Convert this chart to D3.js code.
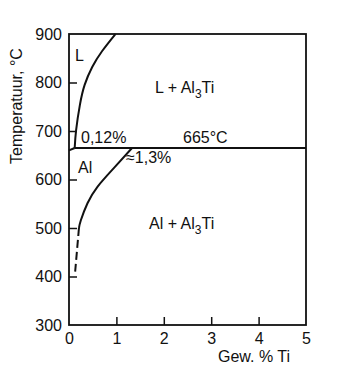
<!DOCTYPE html>
<html><head><meta charset="utf-8">
<script src="https://cdn.jsdelivr.net/npm/d3@7"></script>
<style>
html,body{margin:0;padding:0;background:#fff;}
text{font-family:"Liberation Sans",Arial,sans-serif;fill:#111;}
</style></head>
<body>
<svg id="c" width="350" height="371"></svg>
<script>
const xTicks = [0,1,2,3,4,5];
const yTicks = [300,400,500,600,700,800,900];
const xTitle = "Gew. % Ti";
const yTitle = "Temperatuur, °C";
// liquidus (wt% Ti, °C)
const liqTi = [0.12,0.15,0.23,0.33,0.49,0.70,0.98];
const liqT  = [665,702,754,795,832,865,900];
// solvus solid line
const solTi = [1.33,0.95,0.6,0.39,0.25,0.21];
const solT  = [665,624,585,551,516,500];
// solvus dashed extension
const dashTi = [0.21,0.17,0.13];
const dashT  = [500,455,410];
const perTi = [0.12,5];
const perT = [665,665];
const meltTi = [0,0.12];
const meltT = [660,665];

const svg = d3.select("#c");
const x = d3.scaleLinear().domain([0,5]).range([69,306]);
const y = d3.scaleLinear().domain([300,900]).range([325,34]);

const ax = svg.append("g").attr("transform","translate(0,325)")
  .call(d3.axisBottom(x).tickValues(xTicks).tickSize(-8).tickPadding(8).tickFormat(d3.format("d")));
const ay = svg.append("g").attr("transform","translate(69,0)")
  .call(d3.axisLeft(y).tickValues(yTicks).tickSize(-8).tickPadding(7).tickFormat(d3.format("d")));
[ax,ay].forEach(g=>{
  g.select(".domain").remove();
  g.selectAll("line").attr("stroke","#111").attr("stroke-width",1.5);
  g.selectAll("text").style("font-size","16px").attr("fill","#111");
});
ay.selectAll(".tick").filter(d=>d===300||d===900).select("line").remove();
ax.selectAll(".tick").filter(d=>d===0||d===5).select("line").remove();

// frame
svg.append("rect").attr("x",x(0)).attr("y",y(900)).attr("width",x(5)-x(0)).attr("height",y(300)-y(900))
  .attr("fill","none").attr("stroke","#111").attr("stroke-width",1.8);

const line = d3.line().x(d=>x(d[0])).y(d=>y(d[1])).curve(d3.curveNatural);
const zip = (a,b)=>a.map((v,i)=>[v,b[i]]);
const sty = p=>p.attr("fill","none").attr("stroke","#111").attr("stroke-width",2);
sty(svg.append("path").attr("d",line(zip(liqTi,liqT))));
sty(svg.append("path").attr("d",line(zip(solTi,solT))));
sty(svg.append("path").attr("d",line(zip(dashTi,dashT)))).attr("stroke-dasharray","8,4");
sty(svg.append("path").attr("d",d3.line().x(d=>x(d[0])).y(d=>y(d[1])) (zip(perTi,perT))));
sty(svg.append("path").attr("d",d3.line().x(d=>x(d[0])).y(d=>y(d[1])) (zip(meltTi,meltT))));

// titles
svg.append("text").attr("x",290).attr("y",362).attr("text-anchor","end").style("font-size","16px").text(xTitle);
svg.append("text").attr("transform","translate(22,106) rotate(-90)").attr("text-anchor","middle").style("font-size","16px").text(yTitle);

// region labels
function lab(px,py,parts,anchor){
  const t = svg.append("text").attr("x",px).attr("y",py).attr("text-anchor",anchor||"start").style("font-size","16px");
  parts.forEach(p=>{
    if(p.sub){ t.append("tspan").attr("dy",5).style("font-size","12px").text(p.t); }
    else if(p.up){ t.append("tspan").attr("dy",-5).text(p.t); }
    else t.append("tspan").text(p.t);
  });
}
lab(75,61,[{t:"L"}]);
lab(155,93,[{t:"L + Al"},{t:"3",sub:1},{t:"Ti",up:1}]);
lab(81,143,[{t:"0,12%"}]);
lab(183,143,[{t:"665°C"}]);
lab(126,163,[{t:"≈1,3%"}]);
lab(78,173,[{t:"Al"}]);
lab(149,229,[{t:"Al + Al"},{t:"3",sub:1},{t:"Ti",up:1}]);
</script>
</body></html>
